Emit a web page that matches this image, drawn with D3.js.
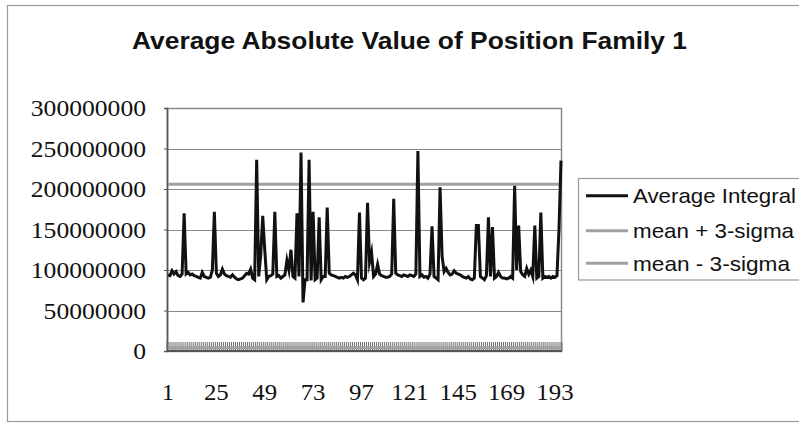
<!DOCTYPE html>
<html>
<head>
<meta charset="utf-8">
<script src="https://cdn.jsdelivr.net/npm/d3@7"></script>
<style>
  html, body { margin: 0; padding: 0; background: #fff; }
  svg { display: block; }
</style>
</head>
<body>
<svg id="chart" width="799" height="424"></svg>
<script>
// ---- Data (values in millions) ----
const avgIntegral = [
  94, 93, 99, 95, 98, 93, 92, 95, 170, 95,
  97, 94, 95, 93, 92, 91, 90, 97, 92, 91,
  90, 91, 100, 172, 96, 92, 94, 101, 95, 93,
  92, 91, 94, 91, 89, 88, 89, 90, 93, 96,
  95, 101, 90, 88, 236, 92, 118, 167, 125, 88,
  92, 93, 95, 172, 92, 93, 90, 92, 94, 112,
  100, 125, 92, 90, 170, 92, 245, 60, 88, 88,
  236, 87, 172, 88, 90, 165, 88, 92, 92, 177,
  96, 94, 93, 92, 91, 90, 91, 90, 92, 91,
  92, 94, 96, 94, 88, 171, 90, 88, 90, 183,
  110, 122, 92, 95, 107, 95, 93, 92, 91, 91,
  92, 95, 188, 96, 94, 93, 92, 94, 93, 92,
  94, 93, 92, 95, 247, 92, 94, 91, 92, 90,
  95, 154, 92, 90, 88, 202, 117, 98, 102, 97,
  94, 95, 99, 96, 95, 94, 92, 91, 90, 92,
  89, 88, 90, 155, 155, 92, 90, 88, 93, 165,
  92, 153, 90, 92, 97, 92, 90, 90, 89, 90,
  92, 90, 204, 100, 155, 98, 94, 92, 102, 95,
  100, 92, 155, 90, 92, 171, 90, 92, 91, 92,
  90, 92, 91, 93, 150, 235
];
const categories = avgIntegral.map((d, i) => i + 1);
const meanPlus3Sigma = 206;   // constant level, millions
const meanMinus3Sigma = 4;    // constant level, millions
const yTicks = [0, 50, 100, 150, 200, 250, 300];
const yTickLabels = ["0", "50000000", "100000000", "150000000", "200000000", "250000000", "300000000"];
const xTickCats = [1, 25, 49, 73, 97, 121, 145, 169, 193];
const xTickLabels = ["1", "25", "49", "73", "97", "121", "145", "169", "193"];
const seriesNames = ["Average Integral", "mean + 3-sigma", "mean - 3-sigma"];
const title = "Average Absolute Value of Position Family 1";

// ---- Layout ----
const svg = d3.select("#chart");
const plotL = 167, plotR = 562, plotT = 108, plotB = 351;

const x = d3.scaleBand().domain(categories).range([plotL, plotR]).paddingInner(0).paddingOuter(0);
const xc = c => x(c) + x.bandwidth() / 2;
const y = d3.scaleLinear().domain([0, 300]).range([plotB, plotT]);

// outer chart frame
svg.append("rect").attr("x", 7.5).attr("y", 5.5).attr("width", 820).attr("height", 416)
  .attr("fill", "none").attr("stroke", "#9a9a9a").attr("stroke-width", 1.2);

// title
svg.append("text").attr("x", 132).attr("y", 49)
  .attr("font-family", "Liberation Sans, Arial, sans-serif").attr("font-weight", "bold")
  .attr("font-size", 24).attr("fill", "#111")
  .attr("textLength", 555).attr("lengthAdjust", "spacingAndGlyphs")
  .text(title);

// gridlines
svg.append("g").selectAll("line").data(yTicks.filter(v => v > 0)).join("line")
  .attr("x1", plotL).attr("x2", plotR)
  .attr("y1", d => Math.round(y(d)) + 0.5).attr("y2", d => Math.round(y(d)) + 0.5)
  .attr("stroke", "#8a8a8a").attr("stroke-width", 1.2);

// plot border
svg.append("rect").attr("x", plotL + 0.5).attr("y", plotT + 0.5)
  .attr("width", plotR - plotL - 1).attr("height", plotB - plotT)
  .attr("fill", "none").attr("stroke", "#8a8a8a").attr("stroke-width", 1.5);

// y axis (left) ticks and labels
const yAxis = d3.axisLeft(y).tickValues(yTicks).tickSize(3).tickFormat("");
const gy = svg.append("g").attr("transform", `translate(${plotL},0)`).call(yAxis);
gy.select(".domain").attr("stroke", "#555").attr("stroke-width", 1.6);
gy.selectAll(".tick line").attr("stroke", "#555");

const digitW = 12.8;
svg.append("g").selectAll("text").data(yTicks).join("text")
  .attr("x", (d, i) => 146 - yTickLabels[i].length * digitW)
  .attr("y", d => y(d) + 8)
  .attr("font-family", "Liberation Serif, Times New Roman, serif")
  .attr("font-size", 23).attr("fill", "#111")
  .attr("textLength", (d, i) => yTickLabels[i].length * digitW)
  .attr("lengthAdjust", "spacingAndGlyphs")
  .text((d, i) => yTickLabels[i]);

// x axis: dense inner tick marks at each category boundary
const xAxis = d3.axisTop(x).tickValues(categories).tickSize(0).tickFormat("");
const gx = svg.append("g").attr("transform", `translate(0,${plotB})`).call(xAxis);
gx.select(".domain").remove();
svg.append("g").selectAll("line").data(categories.concat([categories.length + 1])).join("line")
  .attr("x1", (d, i) => i < categories.length ? x(d) : plotR)
  .attr("x2", (d, i) => i < categories.length ? x(d) : plotR)
  .attr("y1", plotB - 9).attr("y2", plotB)
  .attr("stroke", "#6e6e6e").attr("stroke-width", 1);
svg.append("line").attr("x1", plotL).attr("x2", plotR)
  .attr("y1", plotB).attr("y2", plotB).attr("stroke", "#555").attr("stroke-width", 1.8);

// x labels
const xDigitW = 12.4;
svg.append("g").selectAll("text").data(xTickCats).join("text")
  .attr("x", (d, i) => xc(d) - xTickLabels[i].length * xDigitW / 2)
  .attr("y", 400)
  .attr("font-family", "Liberation Serif, Times New Roman, serif")
  .attr("font-size", 23).attr("fill", "#111")
  .attr("textLength", (d, i) => xTickLabels[i].length * xDigitW)
  .attr("lengthAdjust", "spacingAndGlyphs")
  .text((d, i) => xTickLabels[i]);

// mean ± 3 sigma lines
const levelLine = d3.line().x(d => xc(d.c)).y(d => y(d.v));
[meanPlus3Sigma, meanMinus3Sigma].forEach(lv => {
  svg.append("path")
    .datum(categories.map(c => ({ c, v: lv })))
    .attr("d", levelLine)
    .attr("fill", "none").attr("stroke", "#a0a0a0").attr("stroke-width", 3);
});

// main series
const line = d3.line().x((d, i) => xc(categories[i])).y(d => y(d));
svg.append("path").datum(avgIntegral).attr("d", line)
  .attr("fill", "none").attr("stroke", "#111").attr("stroke-width", 3)
  .attr("stroke-linejoin", "miter").attr("stroke-miterlimit", 10);

// legend
const lg = svg.append("g");
lg.append("rect").attr("x", 578.5).attr("y", 178.5).attr("width", 260).attr("height", 101.5)
  .attr("fill", "#fff").attr("stroke", "#9a9a9a").attr("stroke-width", 1.2);
const legY = [195.7, 230.7, 263.3];
const legColor = ["#111", "#a0a0a0", "#a0a0a0"];
const legW = [3, 3, 3];
const legTextW = [163, 161, 157];
seriesNames.forEach((name, i) => {
  lg.append("line").attr("x1", 586).attr("x2", 628).attr("y1", legY[i]).attr("y2", legY[i])
    .attr("stroke", legColor[i]).attr("stroke-width", legW[i]);
  lg.append("text").attr("x", 633).attr("y", legY[i] + 7.5)
    .attr("font-family", "Liberation Sans, Arial, sans-serif").attr("font-size", 21).attr("fill", "#111")
    .attr("textLength", legTextW[i]).attr("lengthAdjust", "spacingAndGlyphs")
    .text(name);
});
</script>
</body>
</html>
